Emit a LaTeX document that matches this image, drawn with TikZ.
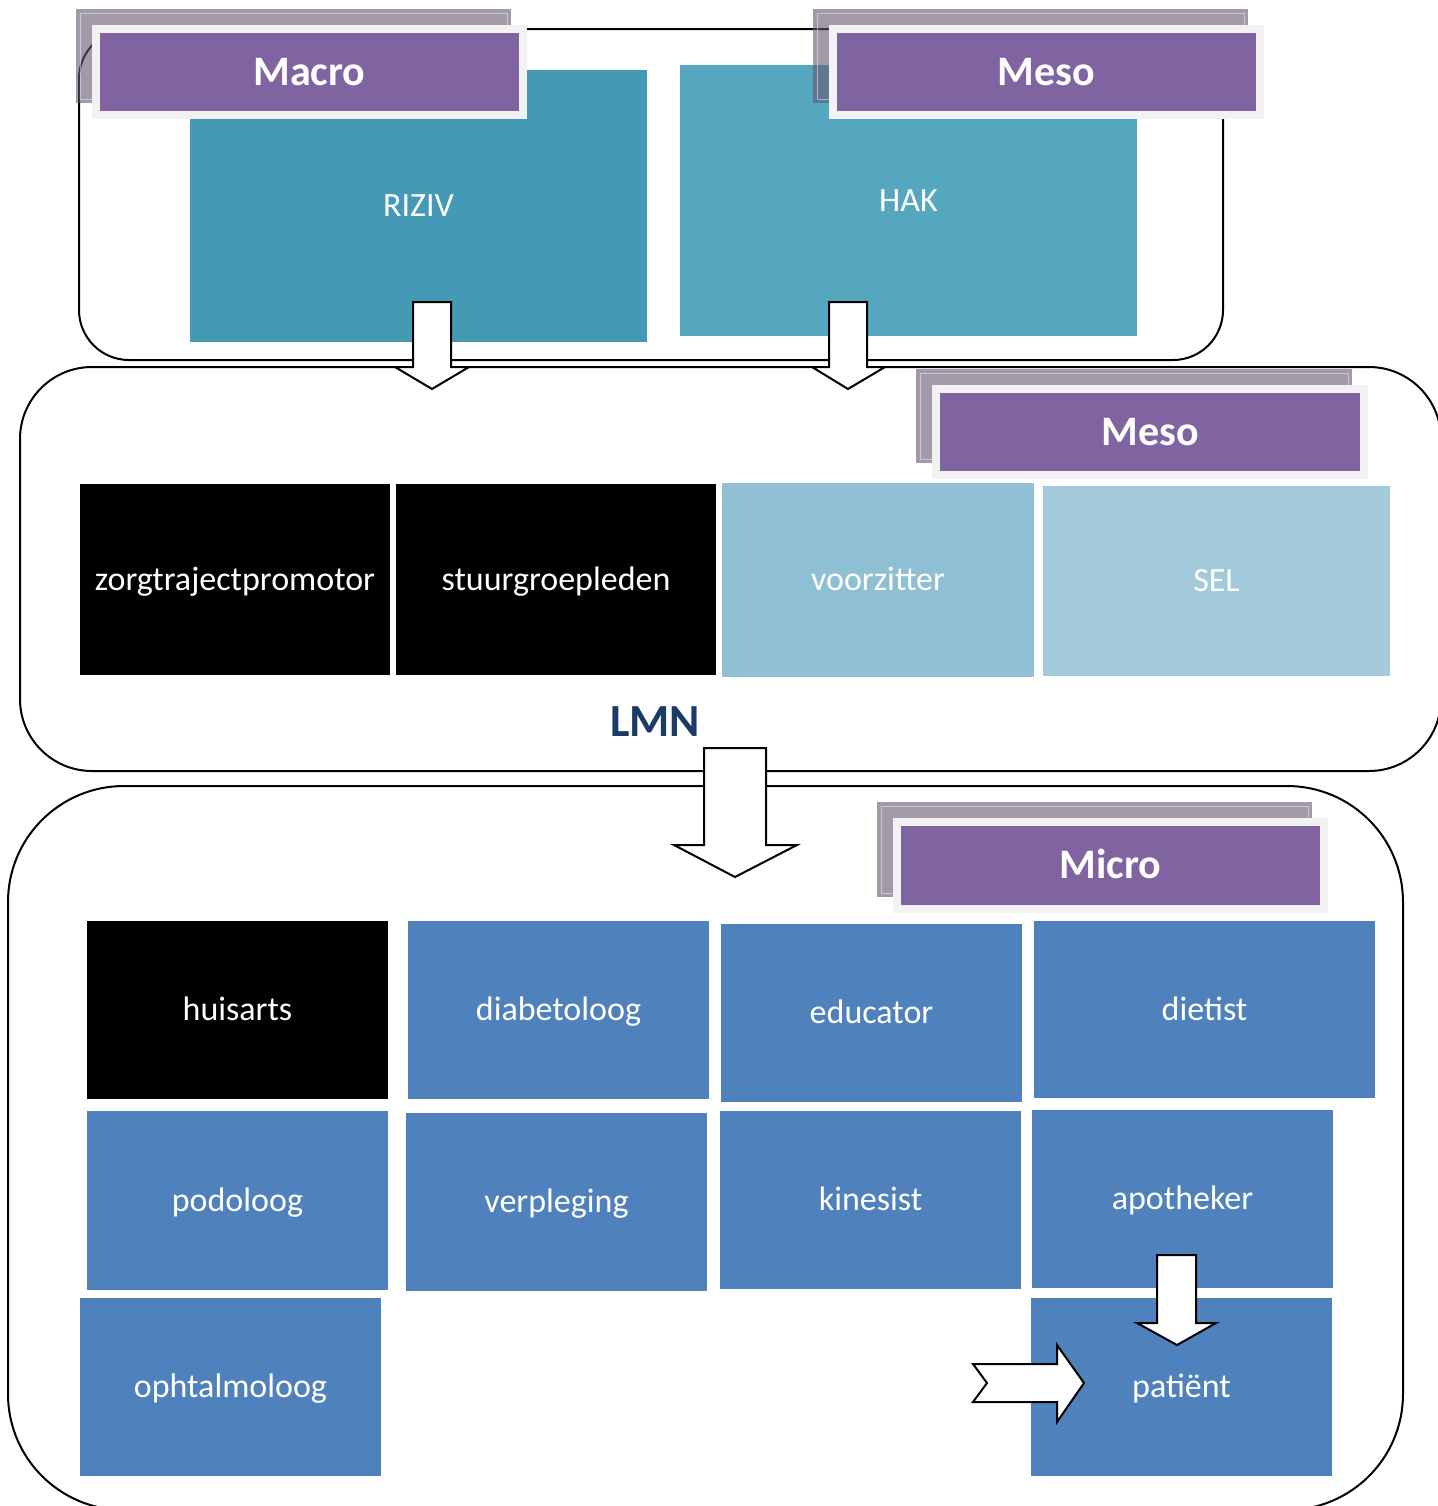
\documentclass[tikz,border=0pt]{standalone}
\usepackage{fontspec}
\setmainfont{Carlito}
\usetikzlibrary{fit}
\definecolor{purp}{HTML}{8064A2}
\definecolor{framec}{HTML}{F2F2F2}
\definecolor{shadowc}{HTML}{665771}
\definecolor{rizivc}{HTML}{449AB5}
\definecolor{hakc}{HTML}{55A7C0}
\definecolor{voorc}{HTML}{8FBFD3}
\definecolor{selc}{HTML}{A3CADB}
\definecolor{bluec}{HTML}{4F81BD}
\definecolor{lmnc}{HTML}{1B3A65}
\tikzset{
  cont/.style={draw=black, line width=1pt, inner sep=0pt},
  cell/.style={inner sep=0pt, text=white, font=\fontsize{17}{20}\selectfont, text height=14pt, text depth=3.3pt},
  lvl/.style={inner sep=0pt, fill=purp, text=white, font=\bfseries\fontsize{21}{25}\selectfont, text height=17pt, text depth=4pt},
  blockarrow/.style={draw=black, line width=1pt, fill=white, line join=miter}
}
% #1 name, #2 x1, #3 y1, #4 x2, #5 y2, #6 style, #7 text
\newcommand\cellbox[7]{%
  \node[#6, minimum width={(#4-#2)*0.5pt}, minimum height={(#5-#3)*0.5pt}] (#1) at ({(#2+#4)/2},{(#3+#5)/2}) {#7};
}
% #1 name, #2 x1, #3 y1, #4 x2, #5 y2 of the purple box, #6 text
\newcommand\lvlbox[6]{%
  \fill[shadowc, opacity=.6] (#2-24,#3-24) rectangle (#4-8,#5-8);
  \draw[white, opacity=.45, line width=0.5pt] (#2-20,#3-20) rectangle (#4-12,#5-12);
  \fill[framec] (#2-8,#3-8) rectangle (#4+8,#5+8);
  \cellbox{#1}{#2}{#3}{#4}{#5}{lvl}{#6}
}
\begin{document}
\begin{tikzpicture}[x=0.5pt,y=-0.5pt]
\clip (0,0) rectangle (1438,1506);
\fill[white] (0,0) rectangle (1438,1506);

% containers
\node[cont, rounded corners=25pt, fit={(79,29) (1223,360)}] (top) {};
\node[cont, rounded corners=36pt, fit={(20,367) (1441,771)}] (mid) {};
\node[cont, rounded corners=58pt, fit={(8,786) (1403,1510)}] (bot) {};

% top boxes
\cellbox{riziv}{190}{70}{647}{342}{cell, fill=rizivc}{RIZIV}
\cellbox{hak}{680}{65}{1137}{336}{cell, fill=hakc}{HAK}

% LMN row
\cellbox{ztp}{80}{484}{390}{675}{cell, fill=black}{zorgtrajectpromotor}
\cellbox{stuur}{396}{484}{716}{675}{cell, fill=black}{stuurgroepleden}
\cellbox{voorz}{722}{483}{1034}{677}{cell, fill=voorc}{voorzitter}
\cellbox{sel}{1043}{486}{1390}{676}{cell, fill=selc}{SEL}
\node[inner sep=0pt, text=lmnc, font=\bfseries\fontsize{23}{27}\selectfont] (lmn) at (655,722) {LMN};

% micro grid
\cellbox{huisarts}{87}{921}{388}{1099}{cell, fill=black}{huisarts}
\cellbox{diab}{408}{921}{709}{1099}{cell, fill=bluec}{diabetoloog}
\cellbox{edu}{721}{924}{1022}{1102}{cell, fill=bluec}{educator}
\cellbox{diet}{1034}{921}{1375}{1098}{cell, fill=bluec}{dietist}
\cellbox{podo}{87}{1111}{388}{1290}{cell, fill=bluec}{podoloog}
\cellbox{verpl}{406}{1113}{707}{1291}{cell, fill=bluec}{verpleging}
\cellbox{kine}{720}{1111}{1021}{1289}{cell, fill=bluec}{kinesist}
\cellbox{apo}{1032}{1110}{1333}{1288}{cell, fill=bluec}{apotheker}
\cellbox{ophta}{80}{1298}{381}{1476}{cell, fill=bluec}{ophtalmoloog}
\cellbox{pat}{1031}{1298}{1332}{1476}{cell, fill=bluec}{patiënt}

% level labels
\lvlbox{macro}{100}{33}{519}{111}{Macro}
\lvlbox{mesoA}{837}{33}{1256}{111}{Meso}
\lvlbox{mesoB}{940}{393}{1360}{471}{Meso}
\lvlbox{micro}{901}{826}{1320}{905}{Micro}

% block arrows
\draw[blockarrow] (413,302) -- (451,302) -- (451,367) -- (469,367) -- (432,389) -- (395,367) -- (413,367) -- cycle;
\draw[blockarrow] (829,302) -- (867,302) -- (867,367) -- (885,367) -- (848,389) -- (812,367) -- (829,367) -- cycle;
\draw[blockarrow] (704,748) -- (766,748) -- (766,845) -- (797,845) -- (735,877) -- (674,845) -- (704,845) -- cycle;
\draw[blockarrow] (1157,1255) -- (1196,1255) -- (1196,1323) -- (1216,1323) -- (1177,1345) -- (1137,1323) -- (1157,1323) -- cycle;
\draw[blockarrow] (973,1364) -- (1057,1364) -- (1057,1345) -- (1084,1383) -- (1057,1422) -- (1057,1402) -- (973,1402) -- (987,1383) -- cycle;
\end{tikzpicture}
\end{document}
